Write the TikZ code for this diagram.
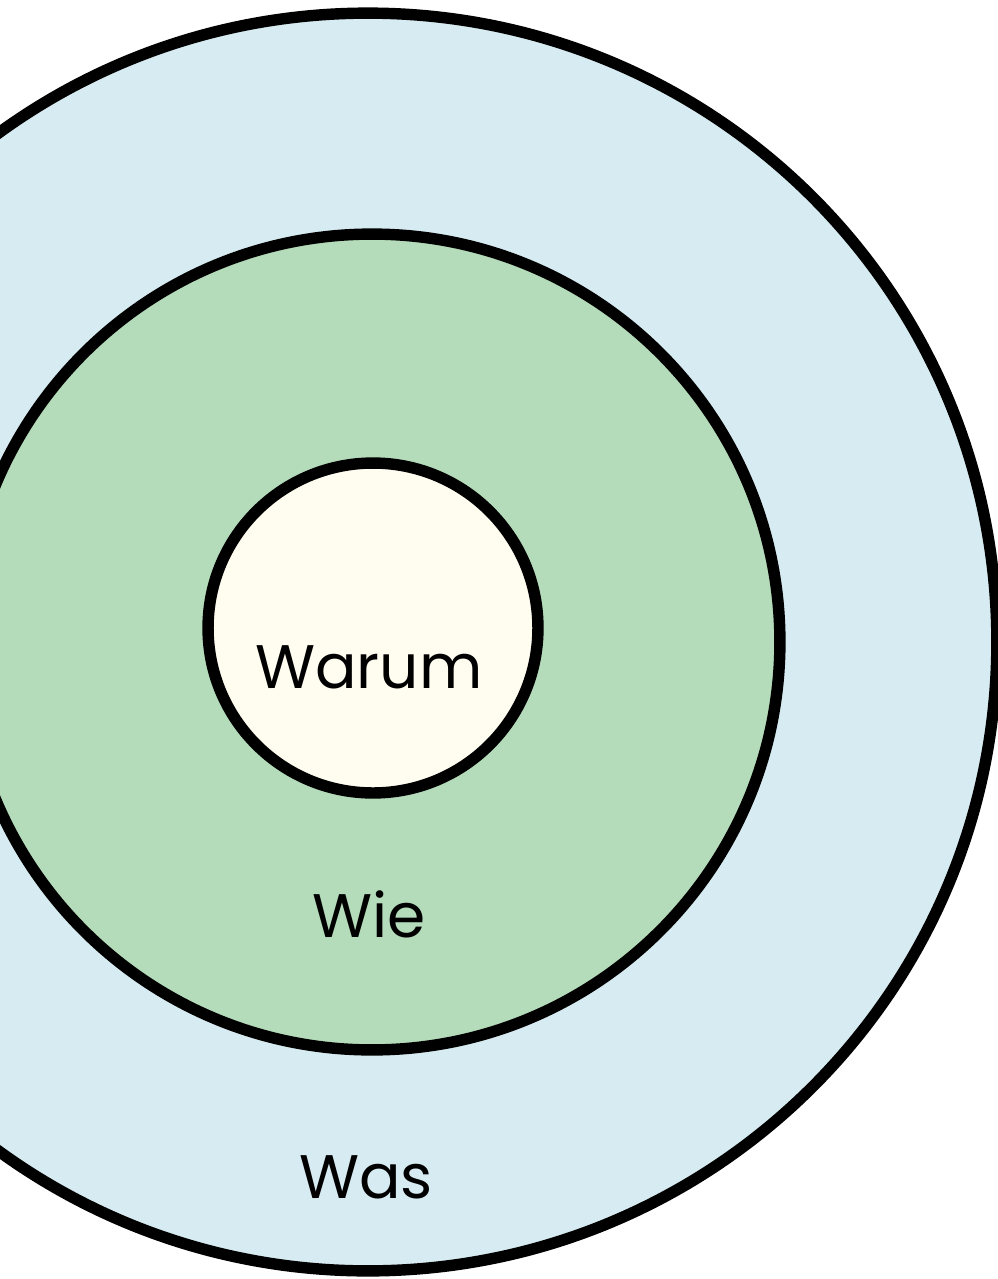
\documentclass[tikz,border=0pt]{standalone}
\usepackage{fontspec}
\setmainfont{Poppins}
\usetikzlibrary{positioning}

\definecolor{wasblue}{RGB}{215,236,242}
\definecolor{wiegreen}{RGB}{180,219,186}
\definecolor{warumcream}{RGB}{255,253,240}

\begin{document}
\begin{tikzpicture}[x=0.02cm,y=-0.02cm,
    ring/.style={circle,draw=black,line width=6.5pt,inner sep=0pt},
    word/.style={anchor=base,font=\fontsize{35}{40}\selectfont}]
        \clip (0,0) rectangle (998,1279);
        \fill[white] (0,0) rectangle (998,1279);
        \node[ring,fill=wasblue,minimum size=25.16cm] (was) at (368,642) {};
        \node[ring,fill=wiegreen,minimum size=16.32cm] (wie) at (372,642) {};
        \node[ring,fill=warumcream,minimum size=6.6cm] (warum) at (373,628) {};
        \node[word] (lblwarum) at (369,688) {Warum};
        \node[word] (lblwie) at (369,937) {Wie};
        \node[word] (lblwas) at (366,1198) {Was};
    \end{tikzpicture}
\end{document}
